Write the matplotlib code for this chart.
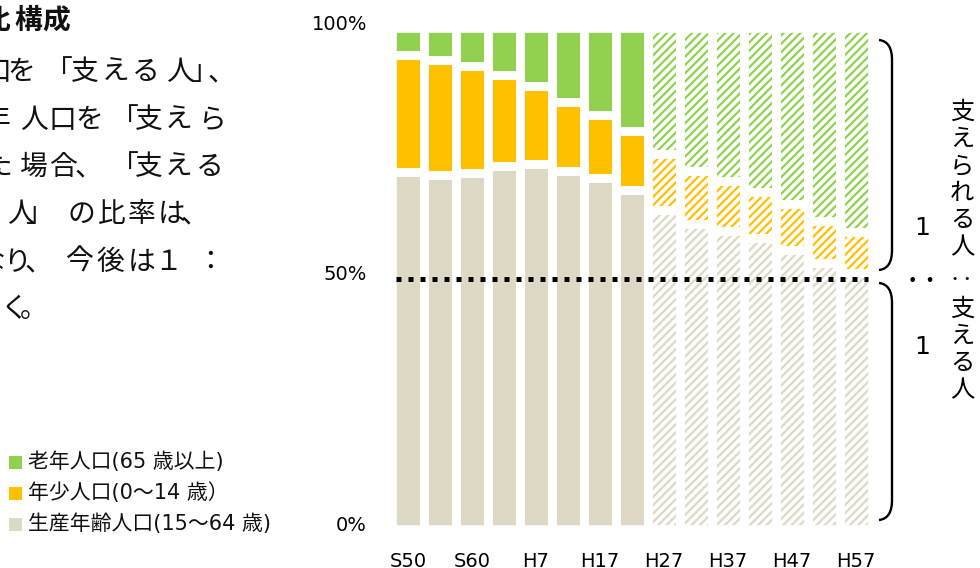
import matplotlib
matplotlib.use("Agg")
import matplotlib.pyplot as plt
import matplotlib.transforms as mtransforms
from matplotlib.path import Path
from matplotlib.patches import PathPatch, Rectangle
import numpy as np

plt.rcParams['font.family'] = ['DejaVu Sans', 'Noto Sans CJK JP']
plt.rcParams['hatch.linewidth'] = 1.6

# ---- data -------------------------------------------------------------
years = ['S50', 'S55', 'S60', 'H2', 'H7', 'H12', 'H17', 'H22',
         'H27', 'H32', 'H37', 'H42', 'H47', 'H52', 'H57']
tick_labels = ['S50', 'S60', 'H7', 'H17', 'H27', 'H37', 'H47', 'H57']
n_actual = 8  # census results; the rest are projections

working = [71.2, 70.6, 71.1, 72.5, 72.8, 71.5, 70.1, 67.7,
           63.7, 60.9, 59.5, 58.1, 55.7, 53.1, 51.0]
young = [23.5, 23.1, 21.3, 18.2, 15.6, 13.8, 12.5, 11.7,
         11.2, 10.6, 9.9, 9.2, 9.2, 8.4, 8.2]
elderly = [5.3, 6.3, 7.6, 9.3, 11.6, 14.7, 17.4, 20.6,
           25.1, 28.5, 30.6, 32.7, 35.1, 38.5, 40.8]

series_names = ['生産年齢人口(15～64 歳)', '年少人口(0～14 歳）', '老年人口(65 歳以上)']
colors = ['#DDD9C4', '#FFC000', '#92D050']

y_ticks = [0, 50, 100]
y_ticklabels = ['0%', '50%', '100%']

# ---- figure -------------------------------------------------------------
fig = plt.figure(figsize=(9.8, 5.68), dpi=100)
W, H = 980, 568
ax = fig.add_axes([392 / W, 39 / H, 480 / W, 501 / H])
ax.set_facecolor('none')

x = np.arange(len(years))
stack = [np.array(working), np.array(young), np.array(elderly)]

# fills (solid for results, hatched for projections)
bottom = np.zeros(len(years))
bottoms = []
for vals, col in zip(stack, colors):
    bottoms.append(bottom.copy())
    for i in x:
        proj = i >= n_actual
        ax.bar(i, vals[i], bottom=bottom[i], width=1.0,
               facecolor='white' if proj else col,
               edgecolor=col, linewidth=0,
               hatch='////' if proj else None, zorder=2)
    bottom = bottom + vals

# white outlines that separate every segment
for vals, b in zip(stack, bottoms):
    ax.bar(x, vals, bottom=b, width=1.0, fill=False,
           edgecolor='white', linewidth=6.2, zorder=3)

# 50% reference line
ax.hlines(50, x[0] - 0.37, x[-1] + 0.37, colors='black', linewidth=3.6,
          linestyles=(0, (1, 1.4)), zorder=4, capstyle='butt')

ax.set_xlim(-0.5, len(years) - 0.5)
ax.set_ylim(0, 100)
ax.set_xticks(x[::2])
ax.set_xticklabels(tick_labels, fontsize=14)
ax.set_yticks(y_ticks)
ax.set_yticklabels(y_ticklabels, fontsize=14)
ax.tick_params(axis='x', length=0, pad=16.5)
ax.tick_params(axis='y', length=0, pad=18)
for lab in ax.get_yticklabels():
    lab.set_transform(lab.get_transform() +
                      mtransforms.ScaledTranslation(0, 0.055, fig.dpi_scale_trans))
for s in ax.spines.values():
    s.set_visible(False)

# ---- overlay in pixel units for legend, braces and notes ----------------
ov = fig.add_axes([0, 0, 1, 1], zorder=5)
ov.set_xlim(0, W)
ov.set_ylim(H, 0)
ov.axis('off')
ov.patch.set_visible(False)

# legend
legend_rows = [(462, series_names[2], colors[2]),
               (493, series_names[1], colors[1]),
               (524, series_names[0], colors[0])]
for yc, name, col in legend_rows:
    ov.add_patch(Rectangle((9, yc - 6.5), 13, 13, facecolor=col, edgecolor='none'))
    ov.text(28, yc, name, fontsize=15, va='center', ha='left', color='#111111')

# braces
def brace(y0, y1):
    verts = [(879, y0), (888, y0 + 1), (892, y0 + 8), (892, y0 + 20),
             (892, y1 - 20),
             (892, y1 - 8), (888, y1 - 1), (879, y1)]
    codes = [Path.MOVETO, Path.CURVE4, Path.CURVE4, Path.CURVE4,
             Path.LINETO,
             Path.CURVE4, Path.CURVE4, Path.CURVE4]
    ov.add_patch(PathPatch(Path(verts, codes), facecolor='none',
                           edgecolor='black', linewidth=1.7))

brace(40, 270)
brace(283, 520)

# ratio 1 : 1 (written vertically, so the colon lies on its side)
ov.text(922, 228, '1', fontsize=18, ha='center', va='center', color='black')
ov.text(921, 283, '‥', fontsize=25, ha='center', va='center',
        family=['Noto Sans CJK JP'], color='black')
ov.text(922, 347, '1', fontsize=18, ha='center', va='center', color='black')

# vertical caption
upper = '支えられる人'
lower = '支える人'
for i, ch in enumerate(upper):
    ov.text(962, 112 + 27 * i, ch, fontsize=17.5, ha='center', va='center',
            family=['Noto Sans CJK JP'], color='black')
ov.text(961, 281, '‥', fontsize=17.5, ha='center', va='center',
        family=['Noto Sans CJK JP'], color='black')
for i, ch in enumerate(lower):
    ov.text(962, 309 + 27 * i, ch, fontsize=17.5, ha='center', va='center',
            family=['Noto Sans CJK JP'], color='black')

# explanatory paragraph (continues beyond the left edge)
para = [
    (29, '比構成', [-4, 28.5, 56.5], True),
    (80, '口を「支える人」、', [-3, 21.5, 59, 84.5, 115.5, 146, 180, 204, 221], False),
    (128, '年人口を「支えら', [-3, 33.5, 62, 89, 125, 148.5, 179, 212], False),
    (175, 'た場合、「支える', [-2, 32.5, 62.5, 88, 125, 149, 178.5, 210], False),
    (222, '人」の比率は、', [21, 39, 81.5, 111.5, 141.5, 171.5, 194], False),
    (270, 'なり、今後は１：', [-9, 16.5, 38, 80, 110, 141.5, 168, 210.5], False),
    (317, 'く。', [14, 34], False),
]
for base, line, xs, bold in para:
    for ch, xc in zip(line, xs):
        ov.text(xc, base, ch, fontsize=20, ha='center', va='baseline',
                family=['Noto Sans CJK JP'],
                fontweight='bold' if bold else 'normal', color='#111111')

fig.savefig('out.png', dpi=100)
